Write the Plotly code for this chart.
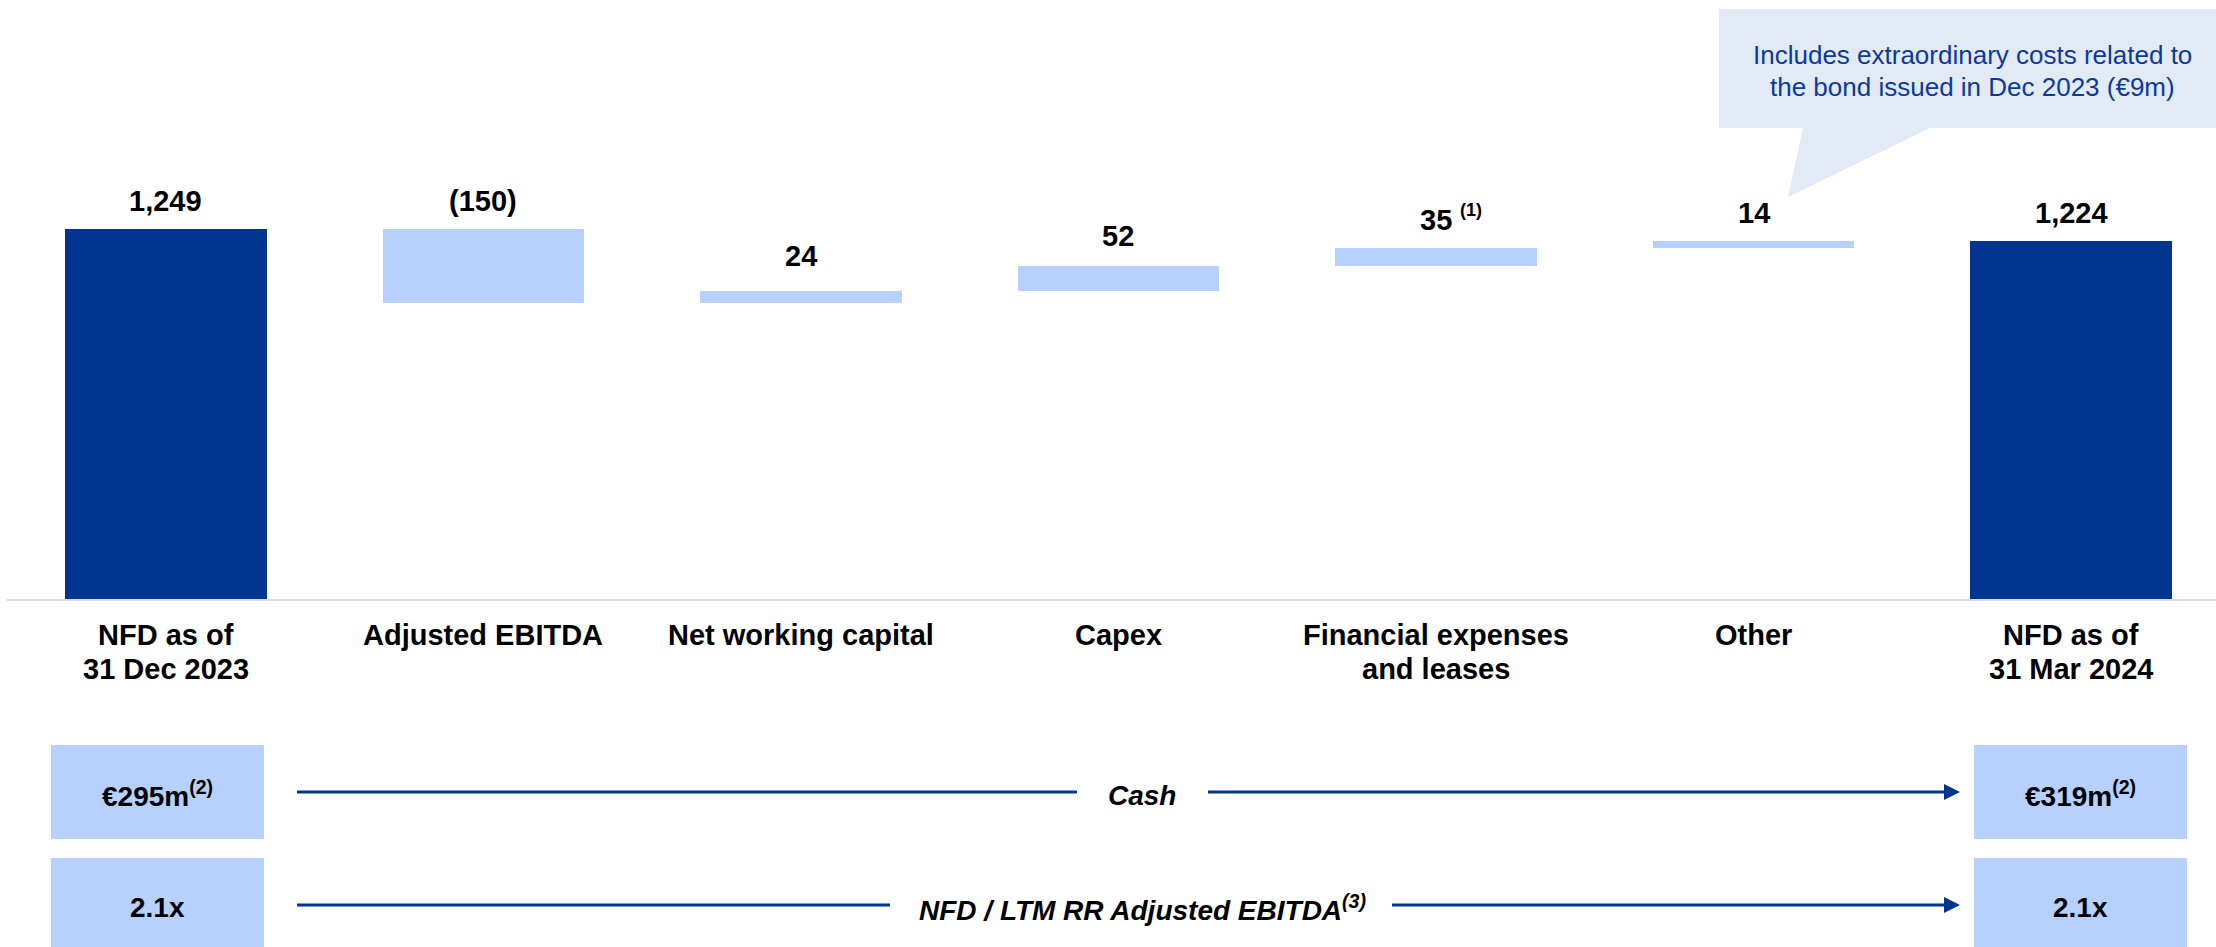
import plotly.graph_objects as go

# ---- data -------------------------------------------------------------
categories = [
    "NFD as of<br>31 Dec 2023",
    "Adjusted EBITDA",
    "Net working capital",
    "Capex",
    "Financial expenses<br>and leases",
    "Other",
    "NFD as of<br>31 Mar 2024",
]
opening_nfd = 1249
movements = [-150, 24, 52, 35, 14]          # Adjusted EBITDA .. Other
footnotes = ["", "", "", "", "(1)", "", ""]

cash_start, cash_end = "€295m", "€319m"
leverage_start, leverage_end = "2.1x", "2.1x"
cash_label = "Cash"
leverage_label = "NFD / LTM RR Adjusted EBITDA"
callout_lines = ["Includes extraordinary costs related to",
                 "the bond issued in Dec 2023 (€9m)"]

# ---- style ------------------------------------------------------------
W, H = 2216, 947
DARK = "#00358F"
LIGHT = "#B7D1FE"
CALLOUT_BG = "#E2EAF6"
CALLOUT_TXT = "#0B3A9B"
FONT = "Arial, Liberation Sans, sans-serif"
# extra lift (px) for individual value labels
label_lift = [0, 0, 7, 2, 0, 0, 0]


def fmt(v):
    return f"({abs(v):,})" if v < 0 else f"{v:,}"


def px(xp):
    return xp / W


def py(yp):
    return 1 - yp / H


# ---- waterfall geometry from the values -------------------------------
bases, heights, tops, colors, labels = [0], [opening_nfd], [opening_nfd], [DARK], [fmt(opening_nfd)]
running = opening_nfd
for m in movements:
    start, end = running, running + m
    bases.append(min(start, end))
    heights.append(abs(m))
    tops.append(max(start, end))
    colors.append(LIGHT)
    labels.append(fmt(m))
    running = end
closing_nfd = running
bases.append(0)
heights.append(closing_nfd)
tops.append(closing_nfd)
colors.append(DARK)
labels.append(fmt(closing_nfd))

xs = list(range(len(categories)))

fig = go.Figure()
fig.add_trace(go.Bar(
    x=xs, y=heights, base=bases, width=0.636,
    marker=dict(color=colors, line=dict(width=0)),
    hoverinfo="skip", showlegend=False,
))

annotations = []
shapes = []

# value labels above each bar
for i, (t, lab) in enumerate(zip(tops, labels)):
    annotations.append(dict(
        x=i, y=t, xref="x", yref="y", text=lab, showarrow=False,
        yshift=28 + label_lift[i], yanchor="middle", xanchor="center",
        font=dict(family=FONT, size=29, color="#000000", weight="bold"),
    ))
    if footnotes[i]:
        annotations.append(dict(
            x=i, y=t, xref="x", yref="y", text=footnotes[i], showarrow=False,
            xshift=22, yshift=38 + label_lift[i], yanchor="middle", xanchor="left",
            font=dict(family=FONT, size=18, color="#000000", weight="bold"),
        ))

# category labels below the baseline
for i, cat in enumerate(categories):
    for j, line in enumerate(cat.split("<br>")):
        annotations.append(dict(
            x=i, y=py(635 + 34 * j), xref="x", yref="paper", text=line,
            showarrow=False, yanchor="middle", xanchor="center",
            font=dict(family=FONT, size=29, color="#000000", weight="bold"),
        ))

# baseline
shapes.append(dict(type="line", xref="paper", yref="paper",
                   x0=px(7), x1=1, y0=py(600), y1=py(600),
                   line=dict(color="#D9D9D9", width=2)))

# callout bubble
pts = [(1719, 9), (2216, 9), (2216, 128), (1930, 128), (1788, 197), (1803, 128), (1719, 128)]
path = "M " + " L ".join(f"{px(a):.5f},{py(b):.5f}" for a, b in pts) + " Z"
shapes.append(dict(type="path", xref="paper", yref="paper", path=path,
                   fillcolor=CALLOUT_BG, line=dict(width=0), layer="below"))
for j, line in enumerate(callout_lines):
    annotations.append(dict(
        x=px(1972), y=py(55 + 32 * j), xref="paper", yref="paper", text=line,
        showarrow=False, yanchor="middle", xanchor="center",
        font=dict(family=FONT, size=26, color=CALLOUT_TXT),
    ))

# bottom rows: boxes, arrows and captions
rows = [
    (745, 839, 792, cash_start + "<sup>(2)</sup>", cash_end + "<sup>(2)</sup>",
     cash_label, 1077, 1208),
    (858, 955, 905, leverage_start, leverage_end,
     leverage_label + "<sup>(3)</sup>", 890, 1392),
]
for y0, y1, yc, left_txt, right_txt, caption, gap_l, gap_r in rows:
    for xa, xb, txt in ((51, 264, left_txt), (1974, 2187, right_txt)):
        shapes.append(dict(type="rect", xref="paper", yref="paper",
                           x0=px(xa), x1=px(xb), y0=py(y1), y1=py(y0),
                           fillcolor=LIGHT, line=dict(width=0)))
        annotations.append(dict(
            x=px((xa + xb) / 2), y=py(yc + 2), xref="paper", yref="paper",
            text=txt, showarrow=False, yanchor="middle", xanchor="center",
            font=dict(family=FONT, size=28, color="#000000", weight="bold"),
        ))
    for xa, xb in ((297, gap_l), (gap_r, 1945)):
        shapes.append(dict(type="line", xref="paper", yref="paper",
                           x0=px(xa), x1=px(xb), y0=py(yc), y1=py(yc),
                           line=dict(color=DARK, width=3)))
    head = f"M {px(1944):.5f},{py(yc - 8):.5f} L {px(1960):.5f},{py(yc):.5f} L {px(1944):.5f},{py(yc + 8):.5f} Z"
    shapes.append(dict(type="path", xref="paper", yref="paper", path=head,
                       fillcolor=DARK, line=dict(width=0)))
    annotations.append(dict(
        x=px(1142), y=py(yc + 3), xref="paper", yref="paper", text=caption,
        showarrow=False, yanchor="middle", xanchor="center",
        font=dict(family=FONT, size=28, color="#000000", weight="bold", style="italic"),
    ))

fig.update_layout(
    width=W, height=H,
    margin=dict(l=0, r=0, t=0, b=0, pad=0),
    paper_bgcolor="white", plot_bgcolor="white",
    showlegend=False, bargap=0,
    xaxis=dict(range=[-0.5228, 6.4567], domain=[0, 1], visible=False, fixedrange=True),
    yaxis=dict(range=[498, 1712.6], domain=[1 - 600 / H, 1], visible=False, fixedrange=True),
    annotations=annotations,
    shapes=shapes,
)

fig.write_html("out.html")
